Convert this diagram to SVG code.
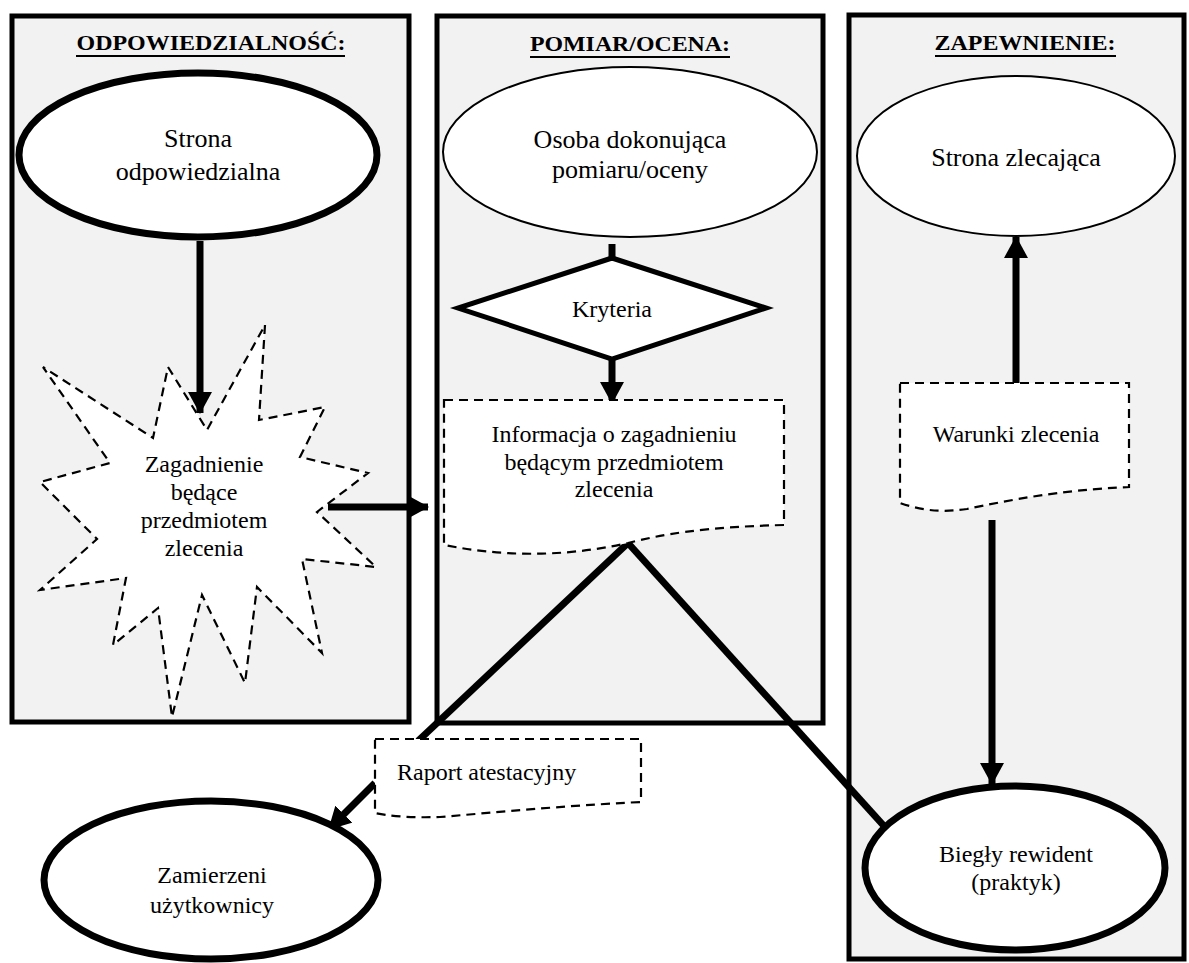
<svg xmlns="http://www.w3.org/2000/svg" width="1189" height="963" viewBox="0 0 1189 963">
<style>
.panel{fill:#f2f2f2;stroke:#000;stroke-width:5}
.thick{fill:#fff;stroke:#000;stroke-width:7}
.thin{fill:#fff;stroke:#000;stroke-width:2}
.dash{fill:#fff;stroke:#000;stroke-width:2.2;stroke-dasharray:9 6}
.hdr{font-family:"Liberation Serif","Times New Roman",serif;font-weight:bold;font-size:22px;text-anchor:middle;fill:#000}
.t26{font-family:"Liberation Serif","Times New Roman",serif;font-size:26px;text-anchor:middle;fill:#000}
.t24{font-family:"Liberation Serif","Times New Roman",serif;font-size:24px;text-anchor:middle;fill:#000}
.ul{stroke:#000;stroke-width:2}
.conn{fill:none;stroke:#000;stroke-width:7}
</style>
<defs>
<marker id="ah" viewBox="0 0 22 24" refX="21" refY="12" markerWidth="22" markerHeight="24" markerUnits="userSpaceOnUse" orient="auto">
<path d="M0,0 L22,12 L0,24 Z" fill="#000"/>
</marker>
</defs>
<g id="panels">
<rect id="panel-odp" class="panel" x="12" y="16" width="397" height="706"/>
<rect id="panel-pom" class="panel" x="437" y="16" width="386" height="707"/>
<rect id="panel-zap" class="panel" x="849" y="15" width="335" height="944"/>
<text class="hdr" x="211" y="50" textLength="269" lengthAdjust="spacingAndGlyphs">ODPOWIEDZIALNOŚĆ:</text>
<line class="ul" x1="76" y1="56" x2="345" y2="56"/>
<text class="hdr" x="630" y="51" textLength="200" lengthAdjust="spacingAndGlyphs">POMIAR/OCENA:</text>
<line class="ul" x1="530" y1="57" x2="730" y2="57"/>
<text class="hdr" x="1025" y="50" textLength="181" lengthAdjust="spacingAndGlyphs">ZAPEWNIENIE:</text>
<line class="ul" x1="935" y1="56" x2="1116" y2="56"/>
</g>
<g id="connectors">
<line class="conn" x1="200" y1="241" x2="200" y2="413" marker-end="url(#ah)"/>
<line class="conn" x1="328" y1="507" x2="428" y2="507" marker-end="url(#ah)"/>
<line class="conn" x1="612" y1="244" x2="612" y2="259" stroke-width="7"/>
<line class="conn" x1="612" y1="360" x2="612" y2="403" marker-end="url(#ah)"/>
<line class="conn" x1="1016" y1="383" x2="1016" y2="237" marker-end="url(#ah)"/>
<line class="conn" x1="992" y1="520" x2="992" y2="784" marker-end="url(#ah)"/>
<line class="conn" x1="628" y1="543" x2="418" y2="741"/>
<line class="conn" x1="628" y1="543" x2="884" y2="826"/>
<line class="conn" x1="375" y1="783" x2="329" y2="829" marker-end="url(#ah)"/>
</g>
<g id="node-strona-odp">
<ellipse class="thick" cx="198" cy="155" rx="179" ry="82"/>
<text class="t26" x="198" y="147">Strona</text>
<text class="t26" x="198" y="180">odpowiedzialna</text>
</g>
<g id="node-zagadnienie">
<polygon class="dash" points="265,325 259,420 325,407 300,457 368,473 317,512 376,567 302,559 322,653 257,587 245,683 202,595 172,717 158,608 113,645 126,578 40,590 97,539 40,482 110,463 43,367 153,438 168,367 207,430"/>
<text class="t24" x="204" y="472">Zagadnienie</text>
<text class="t24" x="204" y="500">będące</text>
<text class="t24" x="204" y="528">przedmiotem</text>
<text class="t24" x="204" y="556">zlecenia</text>
</g>
<g id="node-osoba">
<ellipse class="thin" cx="630" cy="152" rx="187" ry="85"/>
<text class="t26" x="630" y="148">Osoba dokonująca</text>
<text class="t26" x="630" y="178">pomiaru/oceny</text>
</g>
<g id="node-kryteria">
<polygon points="612,258 766,308 612,359 458,308" fill="#fff" stroke="#000" stroke-width="5" stroke-linejoin="miter"/>
<text class="t24" x="612" y="317">Kryteria</text>
</g>
<g id="node-informacja">
<path class="dash" d="M444,400 H784 V525 C700,527 660,535 628,543 C560,558 500,556 444,545 Z"/>
<text class="t24" x="614" y="442">Informacja o zagadnieniu</text>
<text class="t24" x="614" y="470">będącym przedmiotem</text>
<text class="t24" x="614" y="497">zlecenia</text>
</g>
<g id="node-strona-zlec">
<ellipse class="thin" cx="1016" cy="156" rx="159" ry="80"/>
<text class="t26" x="1016" y="166">Strona zlecająca</text>
</g>
<g id="node-warunki">
<path class="dash" d="M900,383 H1129 V487 C1060,490 1010,500 967,509 C940,513 920,510 900,503 Z"/>
<text class="t24" x="1016" y="442">Warunki zlecenia</text>
</g>
<g id="node-biegly">
<ellipse class="thick" cx="1015" cy="868" rx="150" ry="82"/>
<text class="t24" x="1016" y="862">Biegły rewident</text>
<text class="t24" x="1016" y="890">(praktyk)</text>
</g>
<g id="node-raport">
<path class="dash" d="M375,739 H641 V802 C560,806 500,812 440,817 C410,818 390,816 375,813 Z"/>
<text class="t24" x="397" y="780" text-anchor="start" style="text-anchor:start">Raport atestacyjny</text>
</g>
<g id="node-zamierzeni">
<ellipse class="thick" cx="211" cy="880" rx="167" ry="79"/>
<text class="t24" x="212" y="883">Zamierzeni</text>
<text class="t24" x="212" y="913">użytkownicy</text>
</g>
</svg>
